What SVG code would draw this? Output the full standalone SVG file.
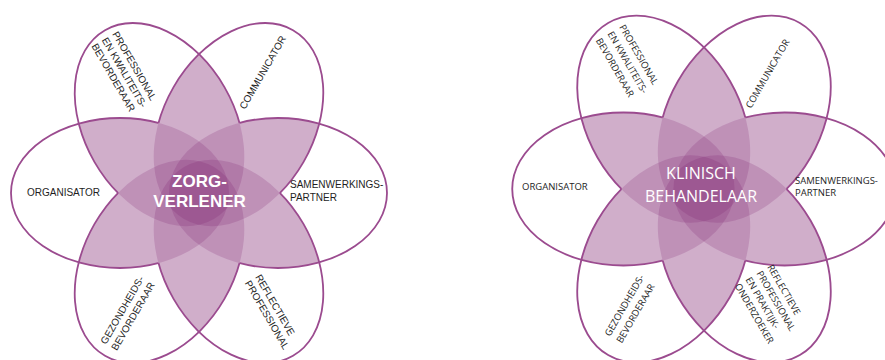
<svg xmlns="http://www.w3.org/2000/svg" width="885" height="360" viewBox="0 0 885 360">
<style>
.lbl{font-family:"Liberation Sans",Arial,sans-serif;font-size:10px;fill:#1e1e1e}
.lbl2{font-family:"Open Sans",sans-serif;font-size:9.5px;fill:#1e1e1e}
.ctr{font-family:"Liberation Sans",Arial,sans-serif;font-size:17px;font-weight:bold;fill:#fff;text-anchor:middle}
.ctr2{font-family:"Open Sans",sans-serif;font-size:16px;font-weight:500;fill:#fff;text-anchor:middle}
.pf{fill:#7d2070;fill-opacity:0.2}
.po{fill:none;stroke:#9b4b8f;stroke-width:1.8}
</style>
<defs>
<ellipse id="e0" cx="79" cy="0" rx="109" ry="75"/>
<ellipse id="e1" cx="79" cy="0" rx="109" ry="75" transform="rotate(60)"/>
<ellipse id="e2" cx="79" cy="0" rx="109" ry="75" transform="rotate(120)"/>
<ellipse id="e3" cx="79" cy="0" rx="109" ry="75" transform="rotate(180)"/>
<ellipse id="e4" cx="79" cy="0" rx="109" ry="75" transform="rotate(240)"/>
<ellipse id="e5" cx="79" cy="0" rx="109" ry="75" transform="rotate(300)"/>
<clipPath id="c0"><use href="#e0"/></clipPath>
<clipPath id="c1"><use href="#e1"/></clipPath>
<clipPath id="c2"><use href="#e2"/></clipPath>
<clipPath id="c3"><use href="#e3"/></clipPath>
<clipPath id="c4"><use href="#e4"/></clipPath>
<clipPath id="c5"><use href="#e5"/></clipPath>
<mask id="fm0" maskUnits="userSpaceOnUse" x="-400" y="-400" width="800" height="800"><g fill="#fff"><use href="#e1"/><use href="#e2"/><use href="#e3"/><use href="#e4"/><use href="#e5"/></g></mask>
<mask id="fm1" maskUnits="userSpaceOnUse" x="-400" y="-400" width="800" height="800"><g fill="#fff"><use href="#e0"/><use href="#e2"/><use href="#e3"/><use href="#e4"/><use href="#e5"/></g></mask>
<mask id="fm2" maskUnits="userSpaceOnUse" x="-400" y="-400" width="800" height="800"><g fill="#fff"><use href="#e0"/><use href="#e1"/><use href="#e3"/><use href="#e4"/><use href="#e5"/></g></mask>
<mask id="fm3" maskUnits="userSpaceOnUse" x="-400" y="-400" width="800" height="800"><g fill="#fff"><use href="#e0"/><use href="#e1"/><use href="#e2"/><use href="#e4"/><use href="#e5"/></g></mask>
<mask id="fm4" maskUnits="userSpaceOnUse" x="-400" y="-400" width="800" height="800"><g fill="#fff"><use href="#e0"/><use href="#e1"/><use href="#e2"/><use href="#e3"/><use href="#e5"/></g></mask>
<mask id="fm5" maskUnits="userSpaceOnUse" x="-400" y="-400" width="800" height="800"><g fill="#fff"><use href="#e0"/><use href="#e1"/><use href="#e2"/><use href="#e3"/><use href="#e4"/></g></mask>
<mask id="sm0" maskUnits="userSpaceOnUse" x="-400" y="-400" width="800" height="800"><rect x="-400" y="-400" width="800" height="800" fill="#fff"/><g fill="#000">
<g clip-path="url(#c1)"><use href="#e2"/><use href="#e3"/><use href="#e4"/><use href="#e5"/></g>
<g clip-path="url(#c2)"><use href="#e3"/><use href="#e4"/><use href="#e5"/></g>
<g clip-path="url(#c3)"><use href="#e4"/><use href="#e5"/></g>
<g clip-path="url(#c4)"><use href="#e5"/></g></g></mask>
<mask id="sm1" maskUnits="userSpaceOnUse" x="-400" y="-400" width="800" height="800"><rect x="-400" y="-400" width="800" height="800" fill="#fff"/><g fill="#000">
<g clip-path="url(#c0)"><use href="#e2"/><use href="#e3"/><use href="#e4"/><use href="#e5"/></g>
<g clip-path="url(#c2)"><use href="#e3"/><use href="#e4"/><use href="#e5"/></g>
<g clip-path="url(#c3)"><use href="#e4"/><use href="#e5"/></g>
<g clip-path="url(#c4)"><use href="#e5"/></g></g></mask>
<mask id="sm2" maskUnits="userSpaceOnUse" x="-400" y="-400" width="800" height="800"><rect x="-400" y="-400" width="800" height="800" fill="#fff"/><g fill="#000">
<g clip-path="url(#c0)"><use href="#e1"/><use href="#e3"/><use href="#e4"/><use href="#e5"/></g>
<g clip-path="url(#c1)"><use href="#e3"/><use href="#e4"/><use href="#e5"/></g>
<g clip-path="url(#c3)"><use href="#e4"/><use href="#e5"/></g>
<g clip-path="url(#c4)"><use href="#e5"/></g></g></mask>
<mask id="sm3" maskUnits="userSpaceOnUse" x="-400" y="-400" width="800" height="800"><rect x="-400" y="-400" width="800" height="800" fill="#fff"/><g fill="#000">
<g clip-path="url(#c0)"><use href="#e1"/><use href="#e2"/><use href="#e4"/><use href="#e5"/></g>
<g clip-path="url(#c1)"><use href="#e2"/><use href="#e4"/><use href="#e5"/></g>
<g clip-path="url(#c2)"><use href="#e4"/><use href="#e5"/></g>
<g clip-path="url(#c4)"><use href="#e5"/></g></g></mask>
<mask id="sm4" maskUnits="userSpaceOnUse" x="-400" y="-400" width="800" height="800"><rect x="-400" y="-400" width="800" height="800" fill="#fff"/><g fill="#000">
<g clip-path="url(#c0)"><use href="#e1"/><use href="#e2"/><use href="#e3"/><use href="#e5"/></g>
<g clip-path="url(#c1)"><use href="#e2"/><use href="#e3"/><use href="#e5"/></g>
<g clip-path="url(#c2)"><use href="#e3"/><use href="#e5"/></g>
<g clip-path="url(#c3)"><use href="#e5"/></g></g></mask>
<mask id="sm5" maskUnits="userSpaceOnUse" x="-400" y="-400" width="800" height="800"><rect x="-400" y="-400" width="800" height="800" fill="#fff"/><g fill="#000">
<g clip-path="url(#c0)"><use href="#e1"/><use href="#e2"/><use href="#e3"/><use href="#e4"/></g>
<g clip-path="url(#c1)"><use href="#e2"/><use href="#e3"/><use href="#e4"/></g>
<g clip-path="url(#c2)"><use href="#e3"/><use href="#e4"/></g>
<g clip-path="url(#c3)"><use href="#e4"/></g></g></mask>
<g id="flower-shape">
<g id="petal-fills">
<use href="#e0" class="pf" mask="url(#fm0)"/>
<use href="#e1" class="pf" mask="url(#fm1)"/>
<use href="#e2" class="pf" mask="url(#fm2)"/>
<use href="#e3" class="pf" mask="url(#fm3)"/>
<use href="#e4" class="pf" mask="url(#fm4)"/>
<use href="#e5" class="pf" mask="url(#fm5)"/>
</g>
<g id="petal-outlines">
<use href="#e0" class="po" mask="url(#sm0)"/>
<use href="#e1" class="po" mask="url(#sm1)"/>
<use href="#e2" class="po" mask="url(#sm2)"/>
<use href="#e3" class="po" mask="url(#sm3)"/>
<use href="#e4" class="po" mask="url(#sm4)"/>
<use href="#e5" class="po" mask="url(#sm5)"/>
</g>
</g>
</defs>

<g id="flower-zorgverlener">
<use href="#flower-shape" transform="translate(199,193)"/>
<g id="zv-center"><text class="ctr" x="199.5" y="187">ZORG-</text><text class="ctr" x="199.5" y="207">VERLENER</text></g>
<g id="zv-organisator"><text class="lbl" x="27" y="196">ORGANISATOR</text></g>
<g id="zv-samenwerkingspartner"><text class="lbl" x="290" y="187.5">SAMENWERKINGS-<tspan x="290" y="200.5">PARTNER</tspan></text></g>
<g id="zv-professional"><text class="lbl" transform="translate(112,34) rotate(60)"><tspan x="0" y="0">PROFESSIONAL</tspan><tspan x="0" y="12">EN KWALITEITS-</tspan><tspan x="0" y="24">BEVORDERAAR</tspan></text></g>
<g id="zv-communicator"><text class="lbl" transform="translate(245,110) rotate(-60)">COMMUNICATOR</text></g>
<g id="zv-gezondheidsbevorderaar"><text class="lbl" transform="translate(106,345) rotate(-60)"><tspan x="0" y="0">GEZONDHEIDS-</tspan><tspan x="0" y="12.5">BEVORDERAAR</tspan></text></g>
<g id="zv-reflectieve"><text class="lbl" transform="translate(255,277) rotate(60)"><tspan x="0" y="0">REFLECTIEVE</tspan><tspan x="0" y="12">PROFESSIONAL</tspan></text></g>
</g>

<g id="flower-klinisch-behandelaar">
<use href="#flower-shape" transform="translate(704,189) scale(1.02)"/>
<g id="kb-center"><text class="ctr2" x="701" y="179">KLINISCH</text><text class="ctr2" x="701" y="202">BEHANDELAAR</text></g>
<g id="kb-organisator"><text class="lbl2" x="522" y="190">ORGANISATOR</text></g>
<g id="kb-samenwerkingspartner"><text class="lbl2" x="795" y="183.5">SAMENWERKINGS-<tspan x="795" y="196">PARTNER</tspan></text></g>
<g id="kb-professional"><text class="lbl2" transform="translate(619,27) rotate(60)"><tspan x="0" y="0">PROFESSIONAL</tspan><tspan x="0" y="13.5">EN KWALITEITS-</tspan><tspan x="0" y="27">BEVORDERAAR</tspan></text></g>
<g id="kb-communicator"><text class="lbl2" transform="translate(751,109) rotate(-60)">COMMUNICATOR</text></g>
<g id="kb-gezondheidsbevorderaar"><text class="lbl2" transform="translate(610,337) rotate(-60)"><tspan x="0" y="0">GEZONDHEIDS-</tspan><tspan x="0" y="13.5">BEVORDERAAR</tspan></text></g>
<g id="kb-reflectieve"><text class="lbl2" transform="translate(767,267) rotate(60)"><tspan x="0" y="0">REFLECTIEVE</tspan><tspan x="0" y="12.5">PROFESSIONAL</tspan><tspan x="0" y="25">EN PRAKTIJK-</tspan><tspan x="0" y="37.5">ONDERZOEKER</tspan></text></g>
</g>
</svg>
